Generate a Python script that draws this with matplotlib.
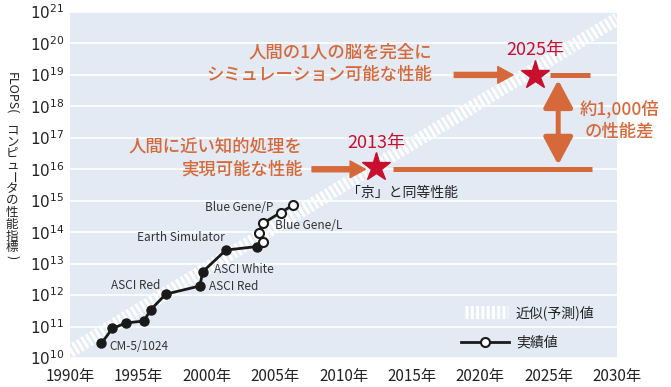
import numpy as np
import matplotlib.pyplot as plt

plt.rcParams['font.family'] = ['Noto Sans CJK JP', 'DejaVu Sans']
plt.rcParams['lines.scale_dashes'] = False

# measured performance (FLOPS)
years_done = [1992.3, 1993.1, 1994.1, 1995.4, 1995.9, 1997.0, 1999.5, 1999.7, 2001.4, 2003.7]
flops_done = [2.95e10, 8.7e10, 1.3e11, 1.5e11, 3.4e11, 1.07e12, 1.95e12, 5.5e12, 2.7e13, 3.5e13]
years_open = [2003.7, 2004.1, 2003.8, 2004.1, 2005.4, 2006.3]
flops_open = [3.5e13, 4.7e13, 9.6e13, 1.9e14, 4.2e14, 7.2e14]

# trend (approximation / forecast)
trend_years = [1990, 2030]
trend_flops = [1.6e10, 6.0e20]

# targets
star_years = [2012.4, 2024.0]
star_flops = [1.2e16, 1.0e19]
star_labels = ['2013年', '2025年']

xticks = [1990, 1995, 2000, 2005, 2010, 2015, 2020, 2025, 2030]
xticklabels = [f'{y}年' for y in xticks]
yticks = [10.0**k for k in range(10, 22)]
yticklabels = [f'$10^{{{k}}}$' for k in range(10, 22)]

orange = '#D6693A'
red = '#C8102E'
bg = '#E3EAF4'

fig = plt.figure(figsize=(6.71, 3.87), dpi=100)
ax = fig.add_axes([70/671, 1-358/387, 547/671, 346/387])
ax.set_facecolor(bg)
ax.set_yscale('log')
ax.set_xlim(1990, 2030)
ax.set_ylim(1e10, 1e21)
for v in yticks:
    ax.axhline(v, color='white', lw=1.2, zorder=1)
for s in ax.spines.values():
    s.set_visible(False)
ax.tick_params(length=0)
ax.set_xticks(xticks)
ax.set_xticklabels(xticklabels, fontsize=11, color='#222222')
ax.set_yticks(yticks)
ax.set_yticklabels(yticklabels, fontsize=11, color='#222222')
ax.yaxis.set_minor_locator(plt.NullLocator())
ax.tick_params(axis='x', pad=7)
ax.tick_params(axis='y', pad=4)

# trend band
ax.plot(trend_years, trend_flops, color='white', lw=9.5, dashes=(2.2, 1.6),
        solid_capstyle='butt', dash_capstyle='butt', zorder=2)

# measured
ax.plot(years_done, flops_done, color='#1a1a1a', lw=2, marker='o', ms=6.5, zorder=4)
ax.plot(years_open, flops_open, color='#1a1a1a', lw=2, zorder=4)
ax.plot(years_open[1:], flops_open[1:], ls='none', marker='o', ms=6.5,
        mfc='white', mec='#1a1a1a', mew=1.5, zorder=5)

lab_kw = dict(fontsize=8.5, color='#333333', va='center', zorder=6)
ax.text(1992.9, 10**10.35, 'CM-5/1024', ha='left', **lab_kw)
ax.text(1996.6, 10**12.29, 'ASCI Red', ha='right', **lab_kw)
ax.text(2000.2, 10**12.26, 'ASCI Red', ha='left', **lab_kw)
ax.text(2000.5, 10**12.80, 'ASCI White', ha='left', **lab_kw)
ax.text(2001.3, 10**13.82, 'Earth Simulator', ha='right', **lab_kw)
ax.text(2005.0, 10**14.20, 'Blue Gene/L', ha='left', **lab_kw)
ax.text(2004.85, 10**14.77, 'Blue Gene/P', ha='right', **lab_kw)

# stars
ax.plot(star_years, star_flops, ls='none', marker='*', ms=21, color=red, mec=red, zorder=6)
ax.text(star_years[0], 10**16.84, star_labels[0], color=red, fontsize=13,
        ha='center', va='center', zorder=6)
ax.text(star_years[1], 10**19.8, star_labels[1], color=red, fontsize=13,
        ha='center', va='center', zorder=6)
ax.text(2014.3, 10**15.25, '「京」と同等性能', color='#222222', fontsize=10,
        ha='center', va='center', zorder=6)

# arrows
arr = dict(arrowstyle='simple,head_width=12,head_length=11,tail_width=3.6',
           color=orange, mutation_scale=1, shrinkA=0, shrinkB=0)
ax.annotate('', xy=(2022.4, 1e19), xytext=(2018.1, 1e19), arrowprops=arr, zorder=5)
ax.annotate('', xy=(2011.6, 1e16), xytext=(2007.7, 1e16), arrowprops=arr, zorder=5)
ax.plot([2025.1, 2028.0], [1e19, 1e19], color=orange, lw=3.6, solid_capstyle='butt', zorder=5)
ax.plot([2013.6, 2028.2], [1e16, 1e16], color=orange, lw=3.6, solid_capstyle='butt', zorder=5)
ax.annotate('', xy=(2025.7, 10**18.84), xytext=(2025.7, 10**16.14),
            arrowprops=dict(arrowstyle='<|-|>,head_length=0.6,head_width=0.32',
                            color=orange, lw=3.6, mutation_scale=28,
                            shrinkA=0, shrinkB=0), zorder=5)

ot = dict(color=orange, fontsize=12.5, fontweight='medium', va='center', zorder=6)
ax.text(2016.5, 10**19.7, '人間の1人の脳を完全に', ha='right', **ot)
ax.text(2016.5, 10**19.0, 'シミュレーション可能な性能', ha='right', **ot)
ax.text(2007.0, 10**16.7, '人間に近い知的処理を', ha='right', **ot)
ax.text(2007.0, 10**16.0, '実現可能な性能', ha='right', **ot)
ax.text(2030.2, 10**17.9, '約1,000倍', ha='center', **ot)
ax.text(2030.2, 10**17.19, 'の性能差', ha='center', **ot)

# legend
ax.plot([2018.9, 2022.0], [10**11.45, 10**11.45], color='white', lw=9.5,
        dashes=(2.2, 1.6), dash_capstyle='butt', zorder=5)
ax.text(2022.6, 10**11.45, '近似(予測)値', fontsize=10, color='#222222', va='center', zorder=6)
ax.plot([2018.6, 2022.1], [10**10.5, 10**10.5], color='#1a1a1a', lw=2, zorder=5)
ax.plot([2020.35], [10**10.5], marker='o', ms=6.5, mfc='white', mec='#1a1a1a', mew=1.5, zorder=6)
ax.text(2022.6, 10**10.5, '実績値', fontsize=10, color='#222222', va='center', zorder=6)

# vertical y label (tategaki)
yl = dict(fontsize=9, color='#222222', ha='center')
fig.text(12/671, 1-72/387, 'FLOPS(', rotation=-90, va='top', **yl)
chars = 'コンピュータの性能指標'
for i, ch in enumerate(chars):
    yy = 1 - (130 + i*11.8)/387
    if ch == 'ー':
        fig.text(12/671, yy, ch, rotation=-90, va='center', **yl)
    else:
        fig.text(12/671, yy, ch, va='center', **yl)
fig.text(12/671, 1-255/387, ')', rotation=-90, va='top', **yl)

fig.savefig('out.png', dpi=100)
